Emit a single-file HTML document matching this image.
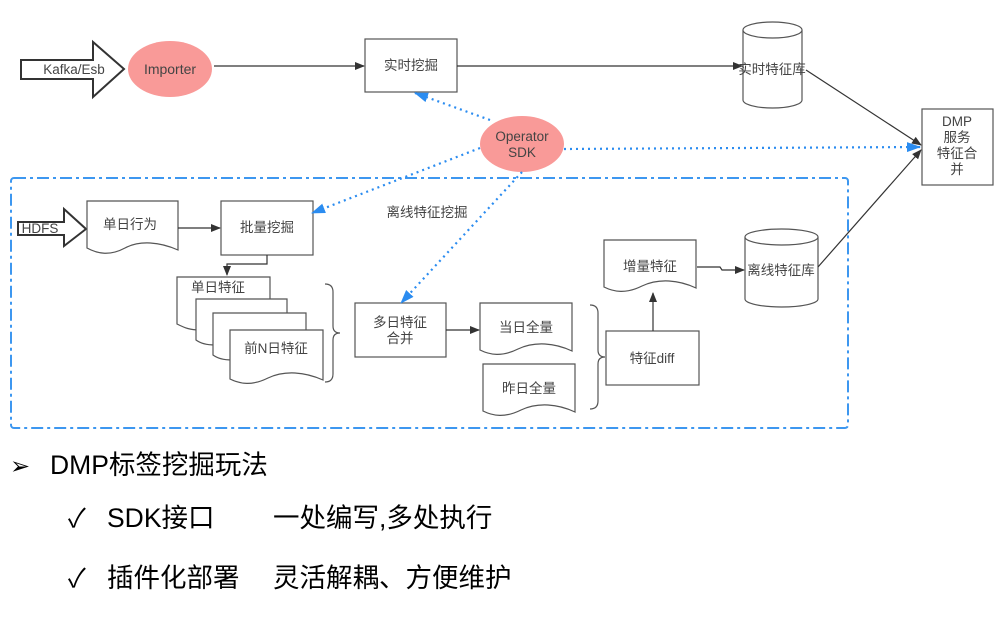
<!DOCTYPE html>
<html><head><meta charset="utf-8"><style>
body{margin:0;background:#fff;width:1004px;height:617px;overflow:hidden;}
svg{display:block;}
text{font-family:"Liberation Sans","Noto Sans CJK SC",sans-serif;}
</style></head><body>
<svg width="1004" height="617" viewBox="0 0 1004 617" xmlns="http://www.w3.org/2000/svg">
<defs>
<marker id="a" markerWidth="10" markerHeight="8" refX="9" refY="4" orient="auto" markerUnits="userSpaceOnUse"><path d="M0,0 L10,4 L0,8 z" fill="#333"/></marker>
<marker id="b" markerWidth="14" markerHeight="10" refX="13" refY="5" orient="auto" markerUnits="userSpaceOnUse"><path d="M0,0 L14,5 L0,10 z" fill="#2b8cf0"/></marker>
</defs>
<g fill="none" stroke="#555" stroke-width="1.2">
<rect x="11" y="178" width="837" height="250" rx="3" stroke="#3d97f0" stroke-width="2" stroke-dasharray="12,4,3,4"/>
<path d="M21,60 H93 V42 L124,69 L93,97 V79 H21 Z" stroke="#333" stroke-width="2"/>
<path d="M18,222 H64 V209 L86,229 L64,246 V235 H18 Z" stroke="#333" stroke-width="2"/>
<rect x="365" y="39" width="92" height="53"/>
<rect x="922" y="109" width="71" height="76"/>
<rect x="221" y="201" width="92" height="54"/>
<rect x="355" y="303" width="91" height="54"/>
<rect x="606" y="331" width="93" height="54"/>
<path d="M87,201 H178 V250 C160,242 140,240 125,248 C110,256 98,254 87,248 Z" fill="#fff"/>
<path d="M177,277 H270 V330 H200 C190,330 185,328 177,324 Z" fill="#fff"/>
<path d="M196,299 H287 V345 H215 C206,345 200,343 196,340 Z" fill="#fff"/>
<path d="M213,313 H306 V360 H232 C223,360 217,358 213,355 Z" fill="#fff"/>
<path d="M230,330 H323 V380 C305,372 285,370 268,378 C252,386 240,384 230,379 Z" fill="#fff"/>
<path d="M480,303 H572 V351 C555,343 535,341 518,349 C502,357 490,355 480,350 Z" fill="#fff"/>
<path d="M483,364 H575 V412 C558,404 538,402 521,410 C505,418 493,416 483,411 Z" fill="#fff"/>
<path d="M604,240 H696 V288 C679,280 659,278 642,286 C626,294 614,292 604,287 Z" fill="#fff"/>
<path d="M325,284 Q333,284 333,292 V326 Q333,333 340,333 Q333,333 333,340 V374 Q333,382 325,382"/>
<path d="M590,305 Q598,305 598,313 V350 Q598,357 605,357 Q598,357 598,364 V401 Q598,409 590,409"/>
<path d="M743,30 V100 A29.5,8 0 0 0 802,100 V30" fill="#fff"/>
<ellipse cx="772.5" cy="30" rx="29.5" ry="8" fill="#fff"/>
<path d="M745,237 V299 A36.5,8 0 0 0 818,299 V237" fill="#fff"/>
<ellipse cx="781.5" cy="237" rx="36.5" ry="8" fill="#fff"/>
<line x1="214" y1="66" x2="364" y2="66" stroke="#333" marker-end="url(#a)"/>
<line x1="457" y1="66" x2="742" y2="66" stroke="#333" marker-end="url(#a)"/>
<line x1="806" y1="70" x2="921" y2="145" stroke="#333" marker-end="url(#a)"/>
<line x1="818" y1="267" x2="921" y2="150" stroke="#333" marker-end="url(#a)"/>
<line x1="178" y1="228" x2="220" y2="228" stroke="#333" marker-end="url(#a)"/>
<path d="M267,255 V264 H227 V275" stroke="#333" marker-end="url(#a)"/>
<line x1="446" y1="330" x2="479" y2="330" stroke="#333" marker-end="url(#a)"/>
<line x1="653" y1="331" x2="653" y2="293" stroke="#333" marker-end="url(#a)"/>
<path d="M697,267 H720 L722,270 H744" stroke="#333" marker-end="url(#a)"/>
</g>
<ellipse cx="170" cy="69" rx="42" ry="28" fill="#f99a98"/>
<ellipse cx="522" cy="144" rx="42" ry="28" fill="#f99a98"/>
<g stroke="#2b8cf0" stroke-width="2.2" stroke-dasharray="2,4" fill="none">
<line x1="490" y1="120" x2="415" y2="93" marker-end="url(#b)"/>
<line x1="564" y1="149" x2="920" y2="147" marker-end="url(#b)"/>
<line x1="480" y1="148" x2="312" y2="213" marker-end="url(#b)"/>
<line x1="522" y1="172" x2="401" y2="303" marker-end="url(#b)"/>
</g>
<g font-size="13.5" fill="#444" text-anchor="middle">
<text x="74" y="74">Kafka/Esb</text>
<text x="170" y="74" font-size="14">Importer</text>
<text x="411" y="70">实时挖掘</text>
<text x="772" y="74">实时特征库</text>
<text x="957" y="126">DMP</text>
<text x="957" y="142">服务</text>
<text x="957" y="158">特征合</text>
<text x="957" y="174">并</text>
<text x="522" y="141">Operator</text>
<text x="522" y="157">SDK</text>
<text x="40" y="233">HDFS</text>
<text x="130" y="229">单日行为</text>
<text x="267" y="232">批量挖掘</text>
<text x="427" y="217">离线特征挖掘</text>
<text x="218" y="292">单日特征</text>
<text x="276" y="353">前N日特征</text>
<text x="400" y="327">多日特征</text>
<text x="400" y="343">合并</text>
<text x="526" y="332">当日全量</text>
<text x="529" y="393">昨日全量</text>
<text x="652" y="363">特征diff</text>
<text x="650" y="271">增量特征</text>
<text x="781" y="275">离线特征库</text>
</g>
<g font-size="26.5" fill="#000">
<text x="10" y="474" font-size="24">➢</text>
<text x="50" y="474">DMP标签挖掘玩法</text>
<text x="68" y="527" font-size="26">✓</text>
<text x="107" y="527">SDK接口</text>
<text x="273" y="527">一处编写,多处执行</text>
<text x="68" y="587" font-size="26">✓</text>
<text x="107" y="587">插件化部署</text>
<text x="273" y="587">灵活解耦、方便维护</text>
</g>
</svg>
</body></html>
